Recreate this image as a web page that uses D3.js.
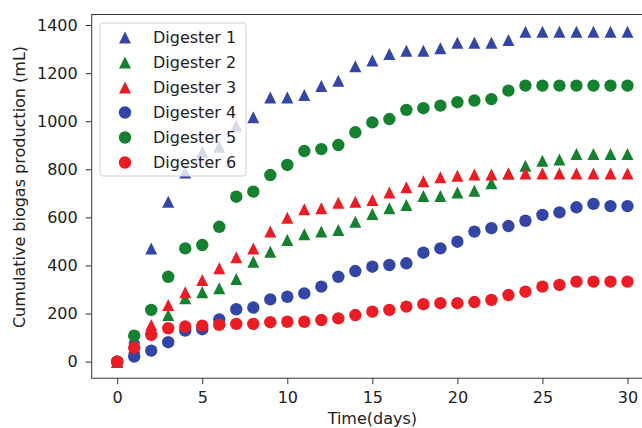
<!DOCTYPE html>
<html><head><meta charset="utf-8">
<script src="https://cdnjs.cloudflare.com/ajax/libs/d3/7.8.5/d3.min.js"></script>
<style>html,body{margin:0;padding:0;background:#fff;overflow:hidden}svg{display:block}</style>
</head><body><svg id="c" width="642" height="428"></svg>
<script>
const days = d3.range(0, 31);
const seriesNames = ["Digester 1","Digester 2","Digester 3","Digester 4","Digester 5","Digester 6"];
const digester1 = [0,100,471,665,787,873,894,981,1016,1099,1099,1109,1146,1168,1229,1252,1279,1293,1293,1303,1326,1326,1326,1338,1372,1372,1372,1372,1372,1372,1372];
const digester2 = [0,55,140,194,264,289,305,344,416,457,506,530,541,548,582,614,638,652,689,689,704,711,742,783,815,836,841,864,864,864,864];
const digester3 = [0,60,153,236,289,340,388,434,471,541,598,634,638,661,665,672,704,725,750,767,773,778,778,783,783,783,783,783,783,783,783];
const digester4 = [0,21,46,81,129,135,176,218,225,259,270,284,312,353,377,395,402,409,453,471,499,541,555,564,586,610,621,642,656,647,647];
const digester5 = [0,108,215,353,471,485,561,686,707,776,818,876,884,901,954,995,1009,1047,1054,1065,1079,1086,1092,1127,1148,1148,1148,1148,1148,1148,1148];
const digester6 = [0,58,111,139,146,150,153,157,157,164,166,166,173,180,194,208,215,229,239,243,243,248,257,277,291,312,319,333,333,333,333];
const xTicks = [0,5,10,15,20,25,30];
const yTicks = [0,200,400,600,800,1000,1200,1400];
const xLabel = "Time(days)";
const yLabel = "Cumulative biogas production (mL)";

const seriesValues = [digester1,digester2,digester3,digester4,digester5,digester6];
const markers = ["tri","tri","tri","circ","circ","circ"];
const colors = ["#3346a6","#13812d","#ec1c24","#3346a6","#13812d","#ec1c24"];

const svg = d3.select("#c");
const L = 91.7, R = 653, T = 14.5, B = 378.2;
const x = d3.scaleLinear().domain([-1.5, 31.5]).range([L, R]);
const y = d3.scaleLinear().domain([-68.75, 1443.75]).range([B, T]);
const FS = "16px";
const FF = "DejaVu Sans, sans-serif";

function markerPath(type) {
  if (type === "tri") {
    const s = 6;
    return `M0,${-s}L${s},${s}L${-s},${s}Z`;
  }
  const r = 6.2;
  return `M${r},0A${r},${r} 0 1,1 ${-r},0A${r},${r} 0 1,1 ${r},0Z`;
}

// points
seriesValues.forEach((vals, i) => {
  svg.append("g").selectAll("path").data(days).join("path")
    .attr("d", markerPath(markers[i]))
    .attr("transform", d => `translate(${x(d)},${y(vals[d])})`)
    .attr("fill", colors[i]);
});

// axes
const xAxis = d3.axisBottom(x).tickValues(xTicks).tickFormat(d3.format("d")).tickSize(6).tickPadding(7);
const gx = svg.append("g").attr("transform", `translate(0,${B})`).call(xAxis);
const yAxis = d3.axisLeft(y).tickValues(yTicks).tickFormat(d3.format("d")).tickSize(6).tickPadding(8);
const gy = svg.append("g").attr("transform", `translate(${L},0)`).call(yAxis);
[gx, gy].forEach(g => {
  g.select(".domain").remove();
  g.selectAll("line").attr("stroke", "#333").attr("stroke-width", 1);
  g.selectAll("text").attr("font-family", FF).attr("font-size", FS).attr("fill", "#222");
});

// spines
svg.append("rect").attr("x", L).attr("y", T).attr("width", R - L).attr("height", B - T)
  .attr("fill", "none").attr("stroke", "#333").attr("stroke-width", 1);

// labels
svg.append("text").attr("x", (L + R) / 2).attr("y", 424).attr("text-anchor", "middle")
  .attr("font-family", FF).attr("font-size", FS).attr("fill", "#222").text(xLabel);
svg.append("text").attr("transform", "translate(24.5,187) rotate(-90)").attr("text-anchor", "middle")
  .attr("font-family", FF).attr("font-size", FS).attr("fill", "#222").text(yLabel);

// legend
const lg = svg.append("g");
lg.append("rect").attr("x", 100).attr("y", 23).attr("width", 146).attr("height", 153)
  .attr("rx", 3).attr("fill", "#fff").attr("fill-opacity", 0.8).attr("stroke", "#d0d0d0");
seriesNames.forEach((name, i) => {
  const cy = 37.5 + i * 25;
  lg.append("path").attr("d", markerPath(markers[i])).attr("transform", `translate(125,${cy})`).attr("fill", colors[i]);
  lg.append("text").attr("x", 153).attr("y", cy).attr("dy", "0.35em")
    .attr("font-family", FF).attr("font-size", FS).attr("fill", "#222").text(name);
});
</script></body></html>
